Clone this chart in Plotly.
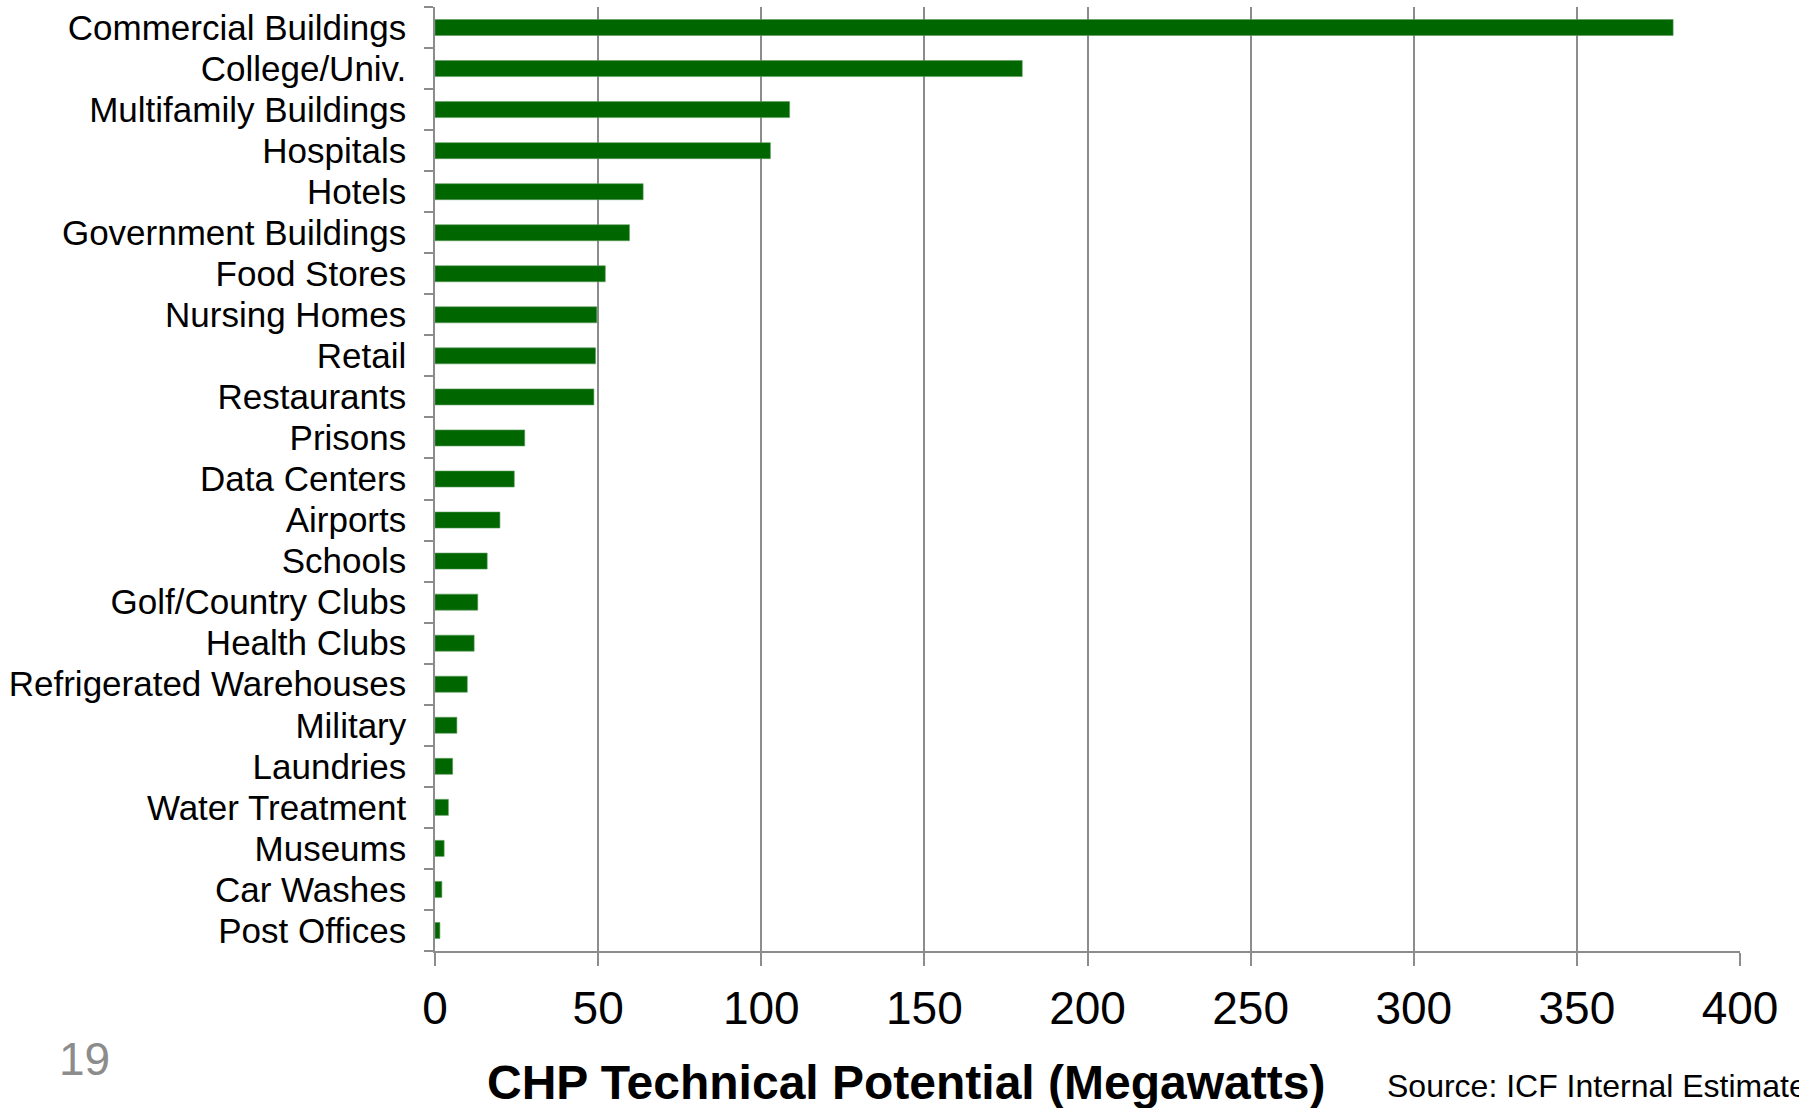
import plotly.graph_objects as go

# CHP technical potential by building type (MW)
categories = [
    "Commercial Buildings", "College/Univ.", "Multifamily Buildings", "Hospitals",
    "Hotels", "Government Buildings", "Food Stores", "Nursing Homes", "Retail",
    "Restaurants", "Prisons", "Data Centers", "Airports", "Schools",
    "Golf/Country Clubs", "Health Clubs", "Refrigerated Warehouses", "Military",
    "Laundries", "Water Treatment", "Museums", "Car Washes", "Post Offices",
]
potential_mw = [
    379.5, 180.0, 108.7, 102.8, 63.8, 59.6, 52.2, 49.6, 49.2, 48.7,
    27.5, 24.3, 19.9, 16.0, 13.1, 12.0, 9.9, 6.7, 5.4, 4.1, 2.8, 2.1, 1.5,
]
x_ticks = [0, 50, 100, 150, 200, 250, 300, 350, 400]

W, H = 1799, 1108
ML, MR, MT, MB = 435, 59, 7, 157
plot_h = H - MT - MB


def paper_y(px):
    return (H - MB - px) / plot_h


def paper_x(px):
    return (px - ML) / (W - ML - MR)


FONT = "Arial, Liberation Sans, sans-serif"
GRID = "#8c8c8c"

fig = go.Figure(
    go.Bar(
        x=potential_mw,
        y=categories,
        orientation="h",
        width=0.39,
        marker=dict(color="#006600", line=dict(color="#5a9a5a", width=0.6)),
        hoverinfo="x+y",
    )
)

fig.update_layout(
    width=W,
    height=H,
    margin=dict(l=ML, r=MR, t=MT, b=MB),
    paper_bgcolor="white",
    plot_bgcolor="white",
    showlegend=False,
    font=dict(family=FONT, color="black"),
    xaxis=dict(
        range=[0, 400],
        tickvals=x_ticks,
        ticktext=[str(v) for v in x_ticks],
        tickfont=dict(size=46, family=FONT, color="black"),
        showgrid=True,
        gridcolor=GRID,
        gridwidth=1.5,
        showline=True,
        linecolor=GRID,
        linewidth=1.5,
        ticks="outside",
        ticklen=13,
        tickwidth=1.5,
        tickcolor=GRID,
        ticklabelstandoff=3,
        zeroline=False,
        fixedrange=True,
    ),
    yaxis=dict(
        categoryorder="array",
        categoryarray=categories,
        tickmode="array",
        tickvals=categories,
        ticktext=categories,
        autorange="reversed",
        tickfont=dict(size=35, family=FONT, color="black"),
        showgrid=False,
        showline=True,
        linecolor=GRID,
        linewidth=1.5,
        ticks="outside",
        tickson="boundaries",
        ticklen=9,
        tickwidth=1.5,
        tickcolor=GRID,
        ticklabelstandoff=20,
        fixedrange=True,
    ),
    annotations=[
        dict(
            text="<b>CHP Technical Potential (Megawatts)</b>",
            x=paper_x(906), y=paper_y(1082),
            xref="paper", yref="paper",
            xanchor="center", yanchor="middle",
            showarrow=False,
            font=dict(size=48, family=FONT, color="black"),
        ),
        dict(
            text="Source: ICF Internal Estimates",
            x=paper_x(1385), y=paper_y(1086),
            xref="paper", yref="paper",
            xanchor="left", yanchor="middle",
            showarrow=False,
            font=dict(size=32, family=FONT, color="black"),
        ),
        dict(
            text="19",
            x=paper_x(84.5), y=paper_y(1059),
            xref="paper", yref="paper",
            xanchor="center", yanchor="middle",
            showarrow=False,
            font=dict(size=46, family=FONT, color="#8c8c8c"),
        ),
    ],
)

fig.write_html("out.html")
